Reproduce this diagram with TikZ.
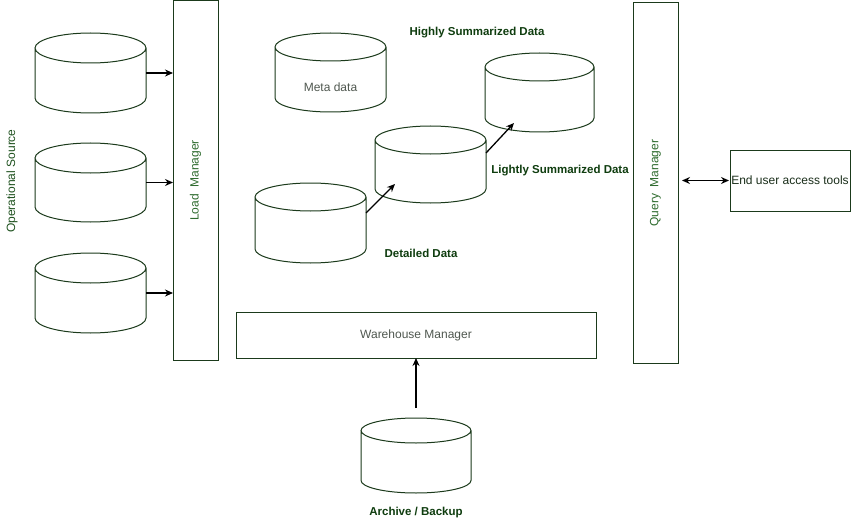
\documentclass[tikz,border=0pt]{standalone}
\usepackage{fontspec}
\setmainfont{Liberation Sans}
\usetikzlibrary{arrows.meta,calc}
\definecolor{lineC}{HTML}{1B3A1B}
\definecolor{mgrC}{HTML}{2E6B2E}
\definecolor{opsC}{HTML}{1F521F}
\definecolor{grayC}{HTML}{505850}
\definecolor{boldC}{HTML}{0F3D0F}
\definecolor{darkC}{HTML}{1A2E1A}
\newcommand\drawcyl[3]{% name, ry, rx
  \draw[cylline] ([yshift=-#2pt]#1.north west) -- ([yshift=#2pt]#1.south west)
    arc[start angle=180,end angle=360,x radius=#3pt,y radius=#2pt]
    -- ([yshift=-#2pt]#1.north east)
    arc[start angle=0,end angle=360,x radius=#3pt,y radius=#2pt];}
\begin{document}
\begin{tikzpicture}[x=1pt,y=-1pt,
  font=\fontsize{12pt}{14pt}\selectfont,
  cylhold/.style={minimum width=111pt,inner sep=0pt,outer sep=0pt},
  cylline/.style={draw=lineC,line width=1pt,fill=white},
  box/.style={draw=lineC,line width=1pt,fill=white,inner sep=0pt,outer sep=0pt},
  arr/.style={draw=black,line width=1.3pt,-{Stealth[length=8pt,width=7pt]}},
  lbl/.style={font=\fontsize{11.5pt}{14pt}\selectfont\bfseries,text=boldC,inner sep=0pt}]
\useasboundingbox[fill=white] (0,0) rectangle (851,524);
% managers
\node[box,minimum width=45pt,minimum height=359pt] (load) at (195.5,180.5) {};
\node[rotate=90,text=mgrC,inner sep=0pt] (loadt) at (load.center) {Load\ \ Manager};
\node[box,minimum width=45pt,minimum height=360pt] (query) at (655.5,183) {};
\node[rotate=90,text=mgrC,inner sep=0pt] (queryt) at (query.center) {Query\ \ Manager};
\node[box,minimum width=360pt,minimum height=46pt,text=grayC] (wh) at (416,335) {Warehouse Manager};
\node[box,minimum width=120pt,minimum height=61pt,text=darkC] (end) at (790,180.5) {End user access tools};
% cylinders
\node[cylhold,minimum height=80pt] (s1) at (90.5,73) {};
\drawcyl{s1}{15}{55.5}
\node[cylhold,minimum height=79pt] (s2) at (90.5,182.5) {};
\drawcyl{s2}{15}{55.5}
\node[cylhold,minimum height=80pt] (s3) at (90.5,293) {};
\drawcyl{s3}{15}{55.5}
\node[cylhold,minimum height=79pt] (meta) at (330.5,72.5) {};
\drawcyl{meta}{14}{55.5}
\node[text=grayC,inner sep=0pt] (metat) at (330.5,87) {Meta data};
\node[cylhold,minimum width=109pt,minimum height=79pt] (hi) at (539.5,92.5) {};
\drawcyl{hi}{14}{54.5}
\node[cylhold,minimum height=77pt] (li) at (430.5,164.5) {};
\drawcyl{li}{14}{55.5}
\node[cylhold,minimum height=80pt] (det) at (310.5,223) {};
\drawcyl{det}{14}{55.5}
\node[cylhold,minimum width=110pt,minimum height=75pt] (arch) at (416,455.5) {};
\drawcyl{arch}{12.5}{55}
% labels
\node[rotate=90,text=opsC,inner sep=0pt] (ops) at (12,181) {Operational Source};
\node[lbl] (hit) at (477,33) {Highly Summarized Data};
\node[lbl] (lit) at (560,171) {Lightly Summarized Data};
\node[lbl] (dett) at (421,253) {Detailed Data};
\node[lbl] (archt) at (416,513) {Archive / Backup};
% connectors
\draw[arr] (s1.east) -- (s1.east -| load.west);
\draw[arr] (s2.east) -- (s2.east -| load.west);
\draw[arr] (s3.east) -- (s3.east -| load.west);
\draw[arr] ([yshift=10pt]det.east) -- ($(li.center)+(-35.5,19.5)$);
\draw[arr] ([yshift=11.5pt]li.east) -- ($(hi.center)+(-25.5,30.5)$);
\draw[arr] ([yshift=10pt]arch.north) -- (wh.south);
\draw[draw=black,line width=1.3pt,{Stealth[length=8pt,width=7pt]}-{Stealth[length=8pt,width=7pt]},shorten <=4pt,shorten >=1pt] (end.west -| query.east) -- (end.west);
\end{tikzpicture}
\end{document}
